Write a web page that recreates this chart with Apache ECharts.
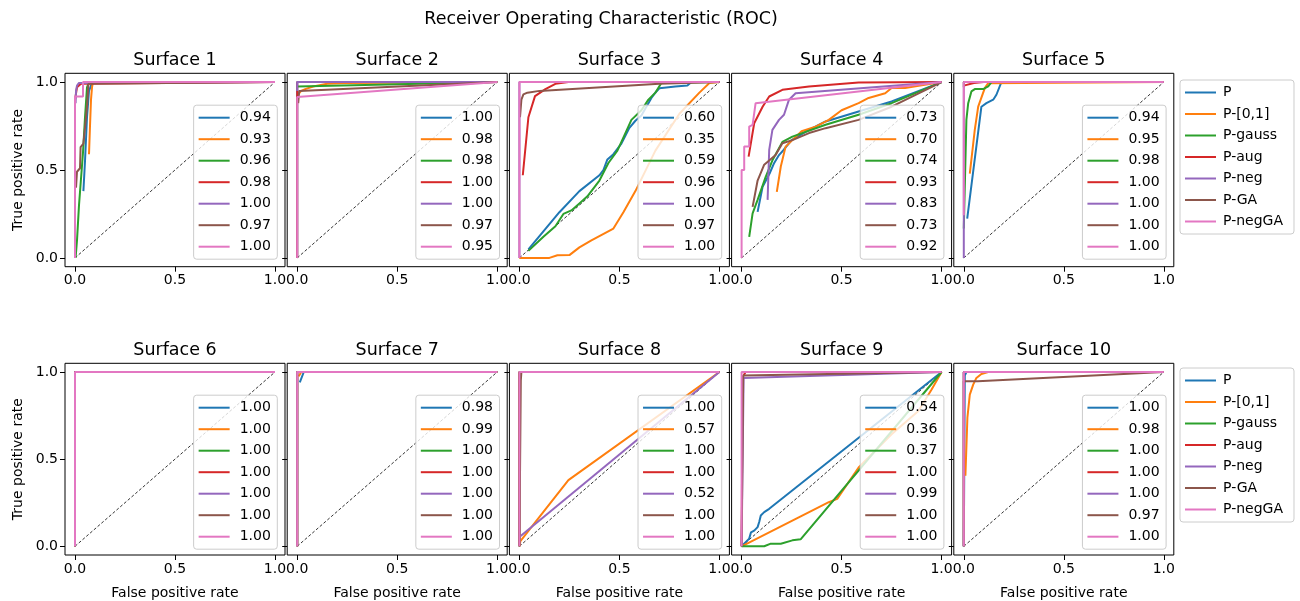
<!DOCTYPE html>
<html>
<head>
<meta charset="utf-8">
<script src="https://cdn.jsdelivr.net/npm/echarts@6/dist/echarts.min.js"></script>
<style>
  html, body { margin: 0; padding: 0; background: #fff; }
  #main { width: 1300px; height: 601px; }
</style>
</head>
<body>
<div id="main"></div>
<script>
// methods and colours (matplotlib tab10)
var methods = ['P', 'P-[0,1]', 'P-gauss', 'P-aug', 'P-neg', 'P-GA', 'P-negGA'];
var colors = ['#1f77b4', '#ff7f0e', '#2ca02c', '#d62728', '#9467bd', '#8c564b', '#e377c2'];
var surfaces = ['Surface 1', 'Surface 2', 'Surface 3', 'Surface 4', 'Surface 5',
                'Surface 6', 'Surface 7', 'Surface 8', 'Surface 9', 'Surface 10'];
var tickValues = [0, 0.5, 1];

// AUC per surface, per method
var aucs = [
  ['0.94', '0.93', '0.96', '0.98', '1.00', '0.97', '1.00'],
  ['1.00', '0.98', '0.98', '1.00', '1.00', '0.97', '0.95'],
  ['0.60', '0.35', '0.59', '0.96', '1.00', '0.97', '1.00'],
  ['0.73', '0.70', '0.74', '0.93', '0.83', '0.73', '0.92'],
  ['0.94', '0.95', '0.98', '1.00', '1.00', '1.00', '1.00'],
  ['1.00', '1.00', '1.00', '1.00', '1.00', '1.00', '1.00'],
  ['0.98', '0.99', '1.00', '1.00', '1.00', '1.00', '1.00'],
  ['1.00', '0.57', '1.00', '1.00', '0.52', '1.00', '1.00'],
  ['0.54', '0.36', '0.37', '1.00', '0.99', '1.00', '1.00'],
  ['1.00', '0.98', '1.00', '1.00', '1.00', '0.97', '1.00']
];

var diag = [[0, 0], [1, 1]];
var full = [[0, 0], [0, 1], [1, 1]];

// ROC curves [fpr, tpr], one list per method
var roc1 = [
  [[0.042,0.38],[0.05,0.55],[0.06,0.8],[0.07,0.95],[0.08,0.98],[0.09,1],[1,1]],
  [[0.07,0.59],[0.075,0.75],[0.08,0.9],[0.085,0.97],[0.09,1],[1,1]],
  [[0.003,0],[0.01,0.1],[0.02,0.3],[0.03,0.45],[0.04,0.6],[0.05,0.8],[0.06,0.97],[0.07,1],[1,1]],
  [[0,0.9],[0.01,0.97],[0.03,0.99],[0.04,1],[1,1]],
  [[0.003,0.88],[0.005,0.95],[0.01,0.98],[0.02,0.995],[0.03,1],[1,1]],
  [[0.005,0.4],[0.01,0.49],[0.025,0.51],[0.028,0.63],[0.042,0.65],[0.05,0.74],[0.06,0.86],[0.067,0.99],[0.07,1],[1,1]],
  [[0,0],[0,0.918],[0.04,0.918],[0.04,1],[1,1]]
];
var roc2 = [
  full,
  [[0.005,0.93],[0.02,0.95],[0.04,0.96],[0.08,0.975],[0.15,0.99],[0.25,0.995],[1,1]],
  [[0.003,0.975],[1,1]],
  full,
  [[0,0.95],[0,1],[1,1]],
  [[0.005,0.88],[0.01,0.95],[1,1]],
  [[0,0],[0,0.915],[1,1]]
];
var roc3 = [
  [[0.045,0.048],[0.2,0.26],[0.3,0.38],[0.4,0.47],[0.42,0.5],[0.44,0.56],[0.47,0.59],[0.51,0.65],[0.55,0.74],[0.58,0.78],[0.61,0.81],[0.63,0.85],[0.66,0.91],[0.68,0.94],[0.7,0.965],[0.78,0.975],[0.84,0.98],[0.86,1],[1,1]],
  [[0,0],[0.15,0],[0.19,0.015],[0.25,0.016],[0.3,0.06],[0.36,0.1],[0.47,0.167],[0.52,0.26],[0.58,0.38],[0.68,0.61],[0.8,0.82],[0.9,0.94],[0.95,0.995],[1,1]],
  [[0.045,0.04],[0.12,0.12],[0.18,0.18],[0.22,0.25],[0.26,0.27],[0.3,0.31],[0.34,0.35],[0.4,0.44],[0.445,0.54],[0.49,0.61],[0.53,0.71],[0.56,0.785],[0.61,0.84],[0.645,0.9],[0.68,0.94],[0.71,0.995],[1,1]],
  [[0.017,0.47],[0.045,0.8],[0.078,0.92],[0.13,0.96],[0.18,0.99],[0.245,1],[1,1]],
  full,
  [[0.003,0.8],[0.01,0.9],[0.02,0.93],[0.04,0.94],[0.1,0.95],[0.7,0.99],[1,1]],
  full
];
var roc4 = [
  [[0.08,0.262],[0.105,0.405],[0.14,0.48],[0.163,0.54],[0.187,0.585],[0.21,0.614],[0.25,0.67],[0.337,0.728],[0.42,0.776],[0.585,0.833],[0.75,0.89],[1,1]],
  [[0.176,0.376],[0.196,0.52],[0.22,0.633],[0.254,0.67],[0.3,0.72],[0.37,0.747],[0.436,0.785],[0.5,0.84],[0.585,0.88],[0.635,0.91],[0.718,0.937],[0.75,0.966],[0.817,0.966],[1,1]],
  [[0.038,0.12],[0.055,0.253],[0.08,0.33],[0.12,0.46],[0.155,0.557],[0.204,0.66],[0.254,0.69],[0.42,0.757],[0.585,0.814],[0.75,0.88],[1,1]],
  [[0.035,0.576],[0.063,0.766],[0.105,0.86],[0.138,0.918],[0.204,0.956],[0.337,0.975],[0.585,0.998],[1,1]],
  [[0.13,0.33],[0.138,0.614],[0.154,0.728],[0.187,0.785],[0.212,0.814],[0.237,0.9],[0.27,0.937],[1,1]],
  [[0.055,0.29],[0.08,0.44],[0.113,0.53],[0.17,0.585],[0.204,0.652],[0.254,0.67],[0.337,0.71],[0.42,0.738],[0.585,0.785],[0.75,0.86],[1,1]],
  [[0,0],[0,0.5],[0.013,0.5],[0.013,0.633],[0.038,0.633],[0.038,0.747],[0.055,0.757],[0.07,0.88],[1,1]]
];
var roc5 = [
  [[0.017,0.224],[0.088,0.86],[0.113,0.88],[0.147,0.9],[0.163,0.928],[0.188,1],[1,1]],
  [[0.03,0.48],[0.055,0.73],[0.072,0.86],[0.105,0.966],[0.122,0.994],[0.13,1],[1,1]],
  [[0,0.167],[0.013,0.785],[0.022,0.88],[0.038,0.947],[0.055,0.96],[0.097,0.96],[0.122,0.975],[0.138,1],[1,1]],
  [[0,0.98],[0.005,0.99],[0.05,0.995],[0.1,1],[1,1]],
  full,
  [[0,0.97],[0,1],[1,1]],
  [[0,0.243],[0,1],[1,1]]
];
var roc6 = [full, full, full, full, full, full, full];
var roc7 = [
  [[0.013,0.94],[0.033,1],[1,1]],
  [[0.008,0.975],[0.02,1],[1,1]],
  full, full, full, full, full
];
var roc8 = [
  full,
  [[0,0],[0.005,0.03],[0.245,0.38],[1,1]],
  full,
  full,
  [[0,0.053],[1,1]],
  [[0,0],[0.007,0.95],[0.01,1],[1,1]],
  full
];
var roc9 = [
  [[0,0],[0.038,0.044],[0.047,0.08],[0.063,0.09],[0.08,0.11],[0.088,0.139],[0.096,0.177],[0.113,0.196],[0.138,0.215],[1,1]],
  [[0,0],[0.436,0.253],[0.478,0.272],[0.585,0.452],[0.75,0.643],[0.884,0.776],[0.95,0.9],[1,1]],
  [[0,0],[0.113,0],[0.146,0.015],[0.196,0.015],[0.254,0.034],[0.295,0.04],[1,1]],
  [[0,0],[0.005,0.97],[0.02,1],[1,1]],
  [[0,0],[0.01,0.965],[1,1]],
  [[0,0],[0.008,0.98],[0.013,0.985],[1,1]],
  full
];
var roc10 = [
  [[0,0],[0.005,0.98],[0.013,1],[1,1]],
  [[0.008,0.405],[0.018,0.738],[0.03,0.87],[0.047,0.928],[0.063,0.966],[0.088,0.989],[0.122,1],[1,1]],
  full, full, full,
  [[0,0],[0,0.947],[0.07,0.947],[1,1]],
  full
];
var rocs = [roc1, roc2, roc3, roc4, roc5, roc6, roc7, roc8, roc9, roc10];

var myChart = echarts.init(document.getElementById('main'));

var W = 1300, H = 601;
var lefts = [65, 287.2, 509.4, 731.6, 953.8];
var tops = [73.3, 363.3];
var pw = 220, ph = 193.4;
var font = 'DejaVu Sans';

var grids = [], xAxes = [], yAxes = [], series = [], legends = [], titles = [];
var labels = {};

titles.push({
  text: 'Receiver Operating Characteristic (ROC)',
  left: 601, top: 10, textAlign: 'center', padding: 0,
  textStyle: { fontFamily: font, fontSize: 17.5, fontWeight: 'normal', color: '#000' }
});

for (var k = 0; k < 10; k++) {
  var row = Math.floor(k / 5), col = k % 5;
  var gl = lefts[col], gt = tops[row];
  grids.push({ left: gl, top: gt, width: pw, height: ph, show: true,
               borderColor: '#000', borderWidth: 1, backgroundColor: 'transparent' });

  titles.push({
    text: surfaces[k], left: gl + pw / 2, top: row === 0 ? 51 : 341,
    textAlign: 'center', padding: 0,
    textStyle: { fontFamily: font, fontSize: 17.5, fontWeight: 'normal', color: '#000' }
  });

  xAxes.push({
    type: 'value', gridIndex: k, min: -0.05, max: 1.05,
    name: row === 1 ? 'False positive rate' : '',
    nameLocation: 'middle', nameGap: 31,
    nameTextStyle: { fontFamily: font, fontSize: 14, color: '#000' },
    axisLine: { show: false, onZero: false },
    axisTick: { show: true, length: 5, customValues: tickValues, lineStyle: { color: '#000', width: 1 } },
    axisLabel: { show: true, customValues: tickValues, margin: 7, fontFamily: font, fontSize: 14, color: '#000',
                 formatter: function (v) { return v.toFixed(1); } },
    splitLine: { show: false }
  });
  yAxes.push({
    type: 'value', gridIndex: k, min: -0.05, max: 1.05,
    name: col === 0 ? 'True positive rate' : '',
    nameLocation: 'middle', nameGap: 40,
    nameTextStyle: { fontFamily: font, fontSize: 14, color: '#000' },
    axisLine: { show: false, onZero: false },
    axisTick: { show: true, length: 5, customValues: tickValues, lineStyle: { color: '#000', width: 1 } },
    axisLabel: { show: col === 0, customValues: tickValues, margin: 7, fontFamily: font, fontSize: 14, color: '#000',
                 formatter: function (v) { return v.toFixed(1); } },
    splitLine: { show: false }
  });

  series.push({
    type: 'line', xAxisIndex: k, yAxisIndex: k, data: diag, symbol: 'none', silent: true,
    lineStyle: { color: '#000', width: 0.8, type: [3, 2] }, z: 2
  });

  var names = [];
  for (var m = 0; m < 7; m++) {
    var nm = 's' + k + '_' + m;
    names.push(nm);
    labels[nm] = aucs[k][m];
    series.push({
      name: nm, type: 'line', xAxisIndex: k, yAxisIndex: k, data: rocs[k][m],
      symbol: 'none', color: colors[m], lineStyle: { color: colors[m], width: 2 }, z: 2
    });
  }

  legends.push({
    data: names, orient: 'vertical', selectedMode: false,
    right: W - (gl + pw) + 7.7, bottom: H - (gt + ph) + 7.5,
    icon: 'rect', itemWidth: 31, itemHeight: 2, itemGap: 7.5,
    padding: [5.5, 6.5, 5.5, 5],
    backgroundColor: 'rgba(255,255,255,0.8)', borderColor: '#cccccc', borderWidth: 1, borderRadius: 3,
    formatter: function (n) { return labels[n]; },
    textStyle: { fontFamily: font, fontSize: 14, lineHeight: 14, color: '#000', padding: [0, 0, 0, 5] }
  });
}

// series that only carry the method names for the outer legends
for (var j = 0; j < 7; j++) {
  series.push({ name: methods[j], type: 'line', xAxisIndex: 0, yAxisIndex: 0, data: [],
                symbol: 'none', color: colors[j], lineStyle: { color: colors[j], width: 2 } });
}
[80, 368].forEach(function (t) {
  legends.push({
    data: methods, orient: 'vertical', selectedMode: false,
    left: 1180, top: t,
    icon: 'rect', itemWidth: 31, itemHeight: 2, itemGap: 7.5,
    padding: [5.5, 11, 5.5, 5],
    backgroundColor: 'rgba(255,255,255,0.8)', borderColor: '#cccccc', borderWidth: 1, borderRadius: 3,
    textStyle: { fontFamily: font, fontSize: 14, lineHeight: 14, color: '#000', padding: [0, 0, 0, 2] }
  });
});

option = {
  animation: false,
  backgroundColor: '#fff',
  textStyle: { fontFamily: font },
  title: titles,
  grid: grids,
  xAxis: xAxes,
  yAxis: yAxes,
  legend: legends,
  series: series
};

myChart.setOption(option);
</script>
</body>
</html>
